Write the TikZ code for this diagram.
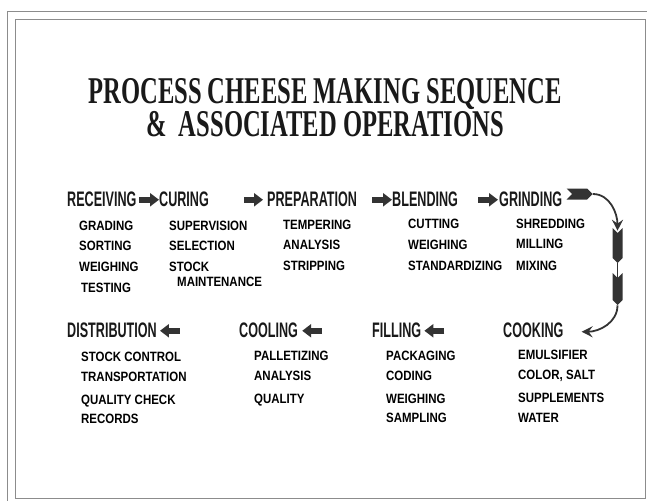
\documentclass[tikz,border=0pt]{standalone}
\usepackage{fontspec}
\usetikzlibrary{arrows.meta,shapes.symbols}
\newfontfamily\titlefont{Liberation Serif}[FakeStretch=0.65]
\newfontfamily\headfont{Liberation Sans}[FakeStretch=0.6]
\newfontfamily\itemfont{Liberation Sans}[FakeStretch=0.85]
\definecolor{framegray}{HTML}{8C8C8C}
\definecolor{arrowgray}{HTML}{333333}
\tikzset{
  heading/.style={anchor=base west, inner sep=0pt, text=black!90,
    font=\headfont\bfseries\fontsize{21}{21}\selectfont},
  item/.style={anchor=base west, inner sep=0pt,
    font=\itemfont\bfseries\fontsize{13.5}{13.5}\selectfont},
  blockarrow/.style={arrowgray, line width=6pt, -{Triangle[length=9pt,width=13pt]}},
  feather/.style={shape=signal, fill=arrowgray, inner sep=0pt},
  bendline/.style={arrowgray, line width=1.8pt},
}

\begin{document}
\begin{tikzpicture}[x=1pt,y=-1pt]
\useasboundingbox (0,0) rectangle (647,500);
\clip (0,0) rectangle (647,500);
% frame
\draw[framegray, line width=1pt] (7,12) rectangle (660,510);
\draw[framegray, line width=1pt] (15,20) rectangle (645,498);
% title
\node[anchor=base, align=center, inner sep=0pt, text=black!90,
  font=\titlefont\bfseries\fontsize{37.8}{33}\selectfont] (title) at (325,136)
  {PROCESS CHEESE MAKING SEQUENCE\\\&\ \ ASSOCIATED OPERATIONS};

% top row
\node[heading] (recv) at (67,206) {RECEIVING};
\node[heading] (cure) at (159,206) {CURING};
\node[heading] (prep) at (267,206) {PREPARATION};
\node[heading] (blend) at (392,206) {BLENDING};
\node[heading] (grind) at (499,206) {GRINDING};
\draw[blockarrow] ([xshift=-20pt,yshift=-1pt]cure.west) -- ([yshift=-1pt]cure.west);
\draw[blockarrow] ([xshift=-23pt,yshift=-1pt]prep.west) -- ([xshift=-4pt,yshift=-1pt]prep.west);
\draw[blockarrow] ([xshift=-20pt,yshift=-1pt]blend.west) -- ([yshift=-1pt]blend.west);
\draw[blockarrow] ([xshift=-21pt,yshift=-1pt]grind.west) -- ([xshift=-1pt,yshift=-1pt]grind.west);

\node[item] (grad) at (79,230) {GRADING};
\node[item] (sort) at (79,250) {SORTING};
\node[item] (weig) at (79,271) {WEIGHING};
\node[item] (test) at (81,292) {TESTING};
\node[item] (supv) at (169,230) {SUPERVISION};
\node[item] (selc) at (169,250) {SELECTION};
\node[item] (stck) at (169,271) {STOCK};
\node[item] (mant) at (177,286) {MAINTENANCE};
\node[item] (temp) at (283,229) {TEMPERING};
\node[item] (anal) at (283,249) {ANALYSIS};
\node[item] (strp) at (283,270) {STRIPPING};
\node[item] (cutt) at (408,228) {CUTTING};
\node[item] (weig2) at (408,249) {WEIGHING};
\node[item] (stnd) at (408,270) {STANDARDIZING};
\node[item] (shrd) at (516,228) {SHREDDING};
\node[item] (mill) at (516,248) {MILLING};
\node[item] (mixi) at (516,270) {MIXING};

% bend down to cooking
\node[feather, signal to=east, signal from=west, minimum width=26pt, minimum height=11pt] (tail) at (579.5,194) {};
\node[feather, signal to=south, signal from=north, minimum width=10pt, minimum height=25pt] (shaft1) at (617.5,245.5) {};
\node[feather, signal to=south, signal from=north, minimum width=10pt, minimum height=22pt] (shaft2) at (617.5,289) {};
\draw[bendline, -{Stealth[length=11pt,width=11pt,inset=4pt]}] (tail.east) to[out=0,in=90] ([yshift=2pt]shaft1.north);
\draw[bendline] (shaft1.south) -- (shaft2.north);

% bottom row
\node[heading] (dist) at (67,337) {DISTRIBUTION};
\node[heading] (cool) at (239,337) {COOLING};
\node[heading] (fill) at (372,337) {FILLING};
\node[heading] (cook) at (503,337) {COOKING};
\draw[blockarrow] ([xshift=23pt,yshift=-1pt]dist.east) -- ([xshift=3pt,yshift=-1pt]dist.east);
\draw[blockarrow] ([xshift=24pt,yshift=-1pt]cool.east) -- ([xshift=4pt,yshift=-1pt]cool.east);
\draw[blockarrow] ([xshift=23pt,yshift=-1pt]fill.east) -- ([xshift=3pt,yshift=-1pt]fill.east);
\draw[bendline, -{Stealth[length=11pt,width=11pt,inset=4pt]}] (shaft2.south) to[out=-90,in=0] ([xshift=18pt,yshift=-2pt]cook.east);

\node[item] (stcn) at (81,361) {STOCK CONTROL};
\node[item] (tran) at (81,381) {TRANSPORTATION};
\node[item] (qchk) at (81,404) {QUALITY CHECK};
\node[item] (reco) at (81,423) {RECORDS};
\node[item] (pall) at (254,360) {PALLETIZING};
\node[item] (anal2) at (254,380) {ANALYSIS};
\node[item] (qual) at (254,403) {QUALITY};
\node[item] (pack) at (386,360) {PACKAGING};
\node[item] (codi) at (386,380) {CODING};
\node[item] (weig3) at (386,403) {WEIGHING};
\node[item] (samp) at (386,422) {SAMPLING};
\node[item] (emul) at (518,359) {EMULSIFIER};
\node[item] (colr) at (518,379) {COLOR, SALT};
\node[item] (supp) at (518,402) {SUPPLEMENTS};
\node[item] (watr) at (518,422) {WATER};
\end{tikzpicture}
\end{document}
